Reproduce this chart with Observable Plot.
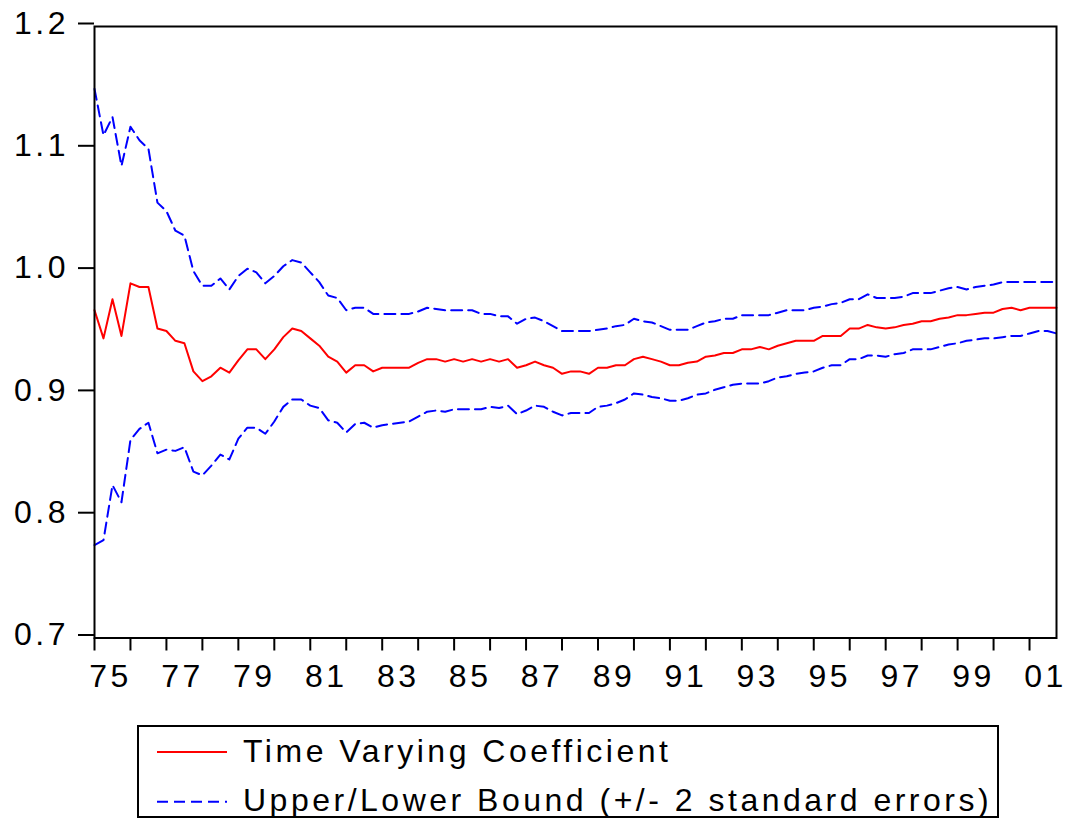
<!DOCTYPE html>
<html>
<head>
<meta charset="utf-8">
<script src="https://cdn.jsdelivr.net/npm/d3@7"></script>
<script src="https://cdn.jsdelivr.net/npm/@observablehq/plot@0.6"></script>
<style>
  body { margin: 0; background: #fff; }
  #wrap { position: relative; width: 1067px; height: 820px; background: #fff;
          font-family: "Liberation Sans", Arial, sans-serif; }
  #chart svg { display: block; }
  #legend { position: absolute; left: 0; top: 720px; }
  #legend text { font-family: "Liberation Sans", Arial, sans-serif; font-size: 32px; letter-spacing: 3.5px; fill: #000; }
</style>
</head>
<body>
<div id="wrap">
  <div id="chart"></div>
  <svg id="legend" width="1067" height="100"></svg>
</div>
<script>
// Quarterly observations, 1975Q1 – 2001Q4
const startYear = 1975;
const periodsPerYear = 4;

const coefficient = [
  0.968, 0.945, 0.977, 0.947, 0.990, 0.987, 0.987, 0.953, 0.951, 0.943,
  0.941, 0.918, 0.910, 0.914, 0.921, 0.917, 0.927, 0.936, 0.936, 0.928,
  0.936, 0.946, 0.953, 0.951, 0.945, 0.939, 0.930, 0.926, 0.917, 0.923,
  0.923, 0.918, 0.921, 0.921, 0.921, 0.921, 0.925, 0.928, 0.928, 0.926,
  0.928, 0.926, 0.928, 0.926, 0.928, 0.926, 0.928, 0.921, 0.923, 0.926,
  0.923, 0.921, 0.916, 0.918, 0.918, 0.916, 0.921, 0.921, 0.923, 0.923,
  0.928, 0.930, 0.928, 0.926, 0.923, 0.923, 0.925, 0.926, 0.930, 0.931,
  0.933, 0.933, 0.936, 0.936, 0.938, 0.936, 0.939, 0.941, 0.943, 0.943,
  0.943, 0.947, 0.947, 0.947, 0.953, 0.953, 0.956, 0.954, 0.953, 0.954,
  0.956, 0.957, 0.959, 0.959, 0.961, 0.962, 0.964, 0.964, 0.965, 0.966,
  0.966, 0.969, 0.970, 0.968, 0.970, 0.970, 0.970, 0.970
];

const upperBound = [
  1.149, 1.111, 1.126, 1.086, 1.118, 1.107, 1.100, 1.056, 1.049, 1.033,
  1.029, 1.000, 0.988, 0.988, 0.994, 0.985, 0.996, 1.002, 0.999, 0.990,
  0.996, 1.004, 1.009, 1.007, 0.999, 0.991, 0.980, 0.978, 0.968, 0.970,
  0.970, 0.965, 0.965, 0.965, 0.965, 0.965, 0.967, 0.970, 0.969, 0.968,
  0.968, 0.968, 0.968, 0.965, 0.965, 0.963, 0.963, 0.957, 0.961, 0.962,
  0.959, 0.955, 0.951, 0.951, 0.951, 0.951, 0.952, 0.953, 0.955, 0.956,
  0.961, 0.959, 0.958, 0.955, 0.952, 0.952, 0.952, 0.955, 0.958, 0.959,
  0.961, 0.961, 0.964, 0.964, 0.964, 0.964, 0.966, 0.968, 0.968, 0.968,
  0.970, 0.971, 0.973, 0.974, 0.977, 0.977, 0.981, 0.978, 0.978, 0.978,
  0.979, 0.982, 0.982, 0.982, 0.984, 0.986, 0.987, 0.985, 0.987, 0.988,
  0.989, 0.991, 0.991, 0.991, 0.991, 0.991, 0.991, 0.991
];

const lowerBound = [
  0.776, 0.780, 0.825, 0.811, 0.862, 0.871, 0.876, 0.851, 0.854, 0.853,
  0.856, 0.836, 0.833, 0.841, 0.850, 0.846, 0.863, 0.872, 0.872, 0.867,
  0.877, 0.889, 0.895, 0.895, 0.890, 0.888, 0.878, 0.876, 0.868, 0.875,
  0.876, 0.872, 0.874, 0.875, 0.876, 0.877, 0.881, 0.885, 0.886, 0.885,
  0.887, 0.887, 0.887, 0.887, 0.889, 0.888, 0.890, 0.883, 0.886, 0.890,
  0.889, 0.885, 0.882, 0.884, 0.884, 0.884, 0.889, 0.890, 0.892, 0.895,
  0.900, 0.899, 0.897, 0.896, 0.894, 0.894, 0.896, 0.899, 0.900, 0.903,
  0.905, 0.907, 0.908, 0.908, 0.908, 0.910, 0.913, 0.914, 0.916, 0.917,
  0.918, 0.921, 0.923, 0.923, 0.928, 0.928, 0.931, 0.931, 0.930, 0.932,
  0.933, 0.936, 0.936, 0.936, 0.938, 0.940, 0.941, 0.943, 0.944, 0.945,
  0.945, 0.946, 0.947, 0.947, 0.949, 0.951, 0.951, 0.949
];

const yearTicks = d3.range(1975, 2002);
const labelYears = [1975, 1977, 1979, 1981, 1983, 1985, 1987, 1989, 1991, 1993, 1995, 1997, 1999, 2001];
const xTickLabels = ["75", "77", "79", "81", "83", "85", "87", "89", "91", "93", "95", "97", "99", "01"];
const yTicks = [0.7, 0.8, 0.9, 1.0, 1.1, 1.2];
const yTickLabels = ["0.7", "0.8", "0.9", "1.0", "1.1", "1.2"];

const legendLabels = ["Time Varying Coefficient", "Upper/Lower Bound (+/- 2 standard errors)"];

const rows = coefficient.map((v, i) => ({
  t: startYear + i / periodsPerYear,
  coef: v,
  upper: upperBound[i],
  lower: lowerBound[i]
}));
const xLabelMap = new Map(labelYears.map((y, i) => [y, xTickLabels[i]]));
const yLabelMap = new Map(yTicks.map((y, i) => [y, yTickLabels[i]]));

const chart = Plot.plot({
  width: 1067,
  height: 720,
  marginLeft: 94,
  marginRight: 11,
  marginTop: 26,
  marginBottom: 82.5,
  x: { domain: [1975, 2001.75], label: null },
  y: { domain: [0.7, 1.2], label: null },
  style: {
    fontFamily: '"Liberation Sans", Arial, sans-serif',
    fontSize: "32px",
    letterSpacing: "3.5px",
    color: "#000",
    background: "#fff",
    overflow: "visible"
  },
  marks: [
    Plot.lineY(rows, { x: "t", y: "upper", stroke: "#0000ff", strokeWidth: 2, strokeDasharray: "11,6" }),
    Plot.lineY(rows, { x: "t", y: "lower", stroke: "#0000ff", strokeWidth: 2, strokeDasharray: "11,6" }),
    Plot.lineY(rows, { x: "t", y: "coef", stroke: "#ff0000", strokeWidth: 2 }),
    Plot.frame({ stroke: "#000", strokeWidth: 2 }),
    Plot.axisY(yTicks, {
      tickSize: 16, tickPadding: 9.5, strokeWidth: 2, stroke: "#000", fill: "#000",
      tickFormat: d => yLabelMap.get(d), dy: -3, label: null
    }),
    Plot.axisX(yearTicks, {
      tickSize: 13, strokeWidth: 2, stroke: "#000", fill: "none", label: null
    }),
    Plot.axisX(labelYears, {
      tickSize: 0, tickPadding: 26, fill: "#000",
      tickFormat: d => xLabelMap.get(d), dx: 16, label: null
    })
  ]
});
document.getElementById("chart").appendChild(chart);

// Legend (below the chart SVG)
const leg = d3.select("#legend");
leg.append("rect")
  .attr("x", 138).attr("y", 6).attr("width", 860).attr("height", 91)
  .attr("fill", "none").attr("stroke", "#000").attr("stroke-width", 2);
const legendStyles = [
  { stroke: "#ff0000", dash: null },
  { stroke: "#0000ff", dash: "11,6" }
];
legendLabels.forEach((label, i) => {
  const ly = [32, 81.7][i];
  const line = leg.append("line")
    .attr("x1", 157).attr("x2", 227).attr("y1", ly).attr("y2", ly)
    .attr("stroke", legendStyles[i].stroke).attr("stroke-width", 2);
  if (legendStyles[i].dash) line.attr("stroke-dasharray", legendStyles[i].dash);
  leg.append("text").attr("x", 243).attr("y", [41.7, 90.7][i]).text(label);
});
</script>
</body>
</html>
